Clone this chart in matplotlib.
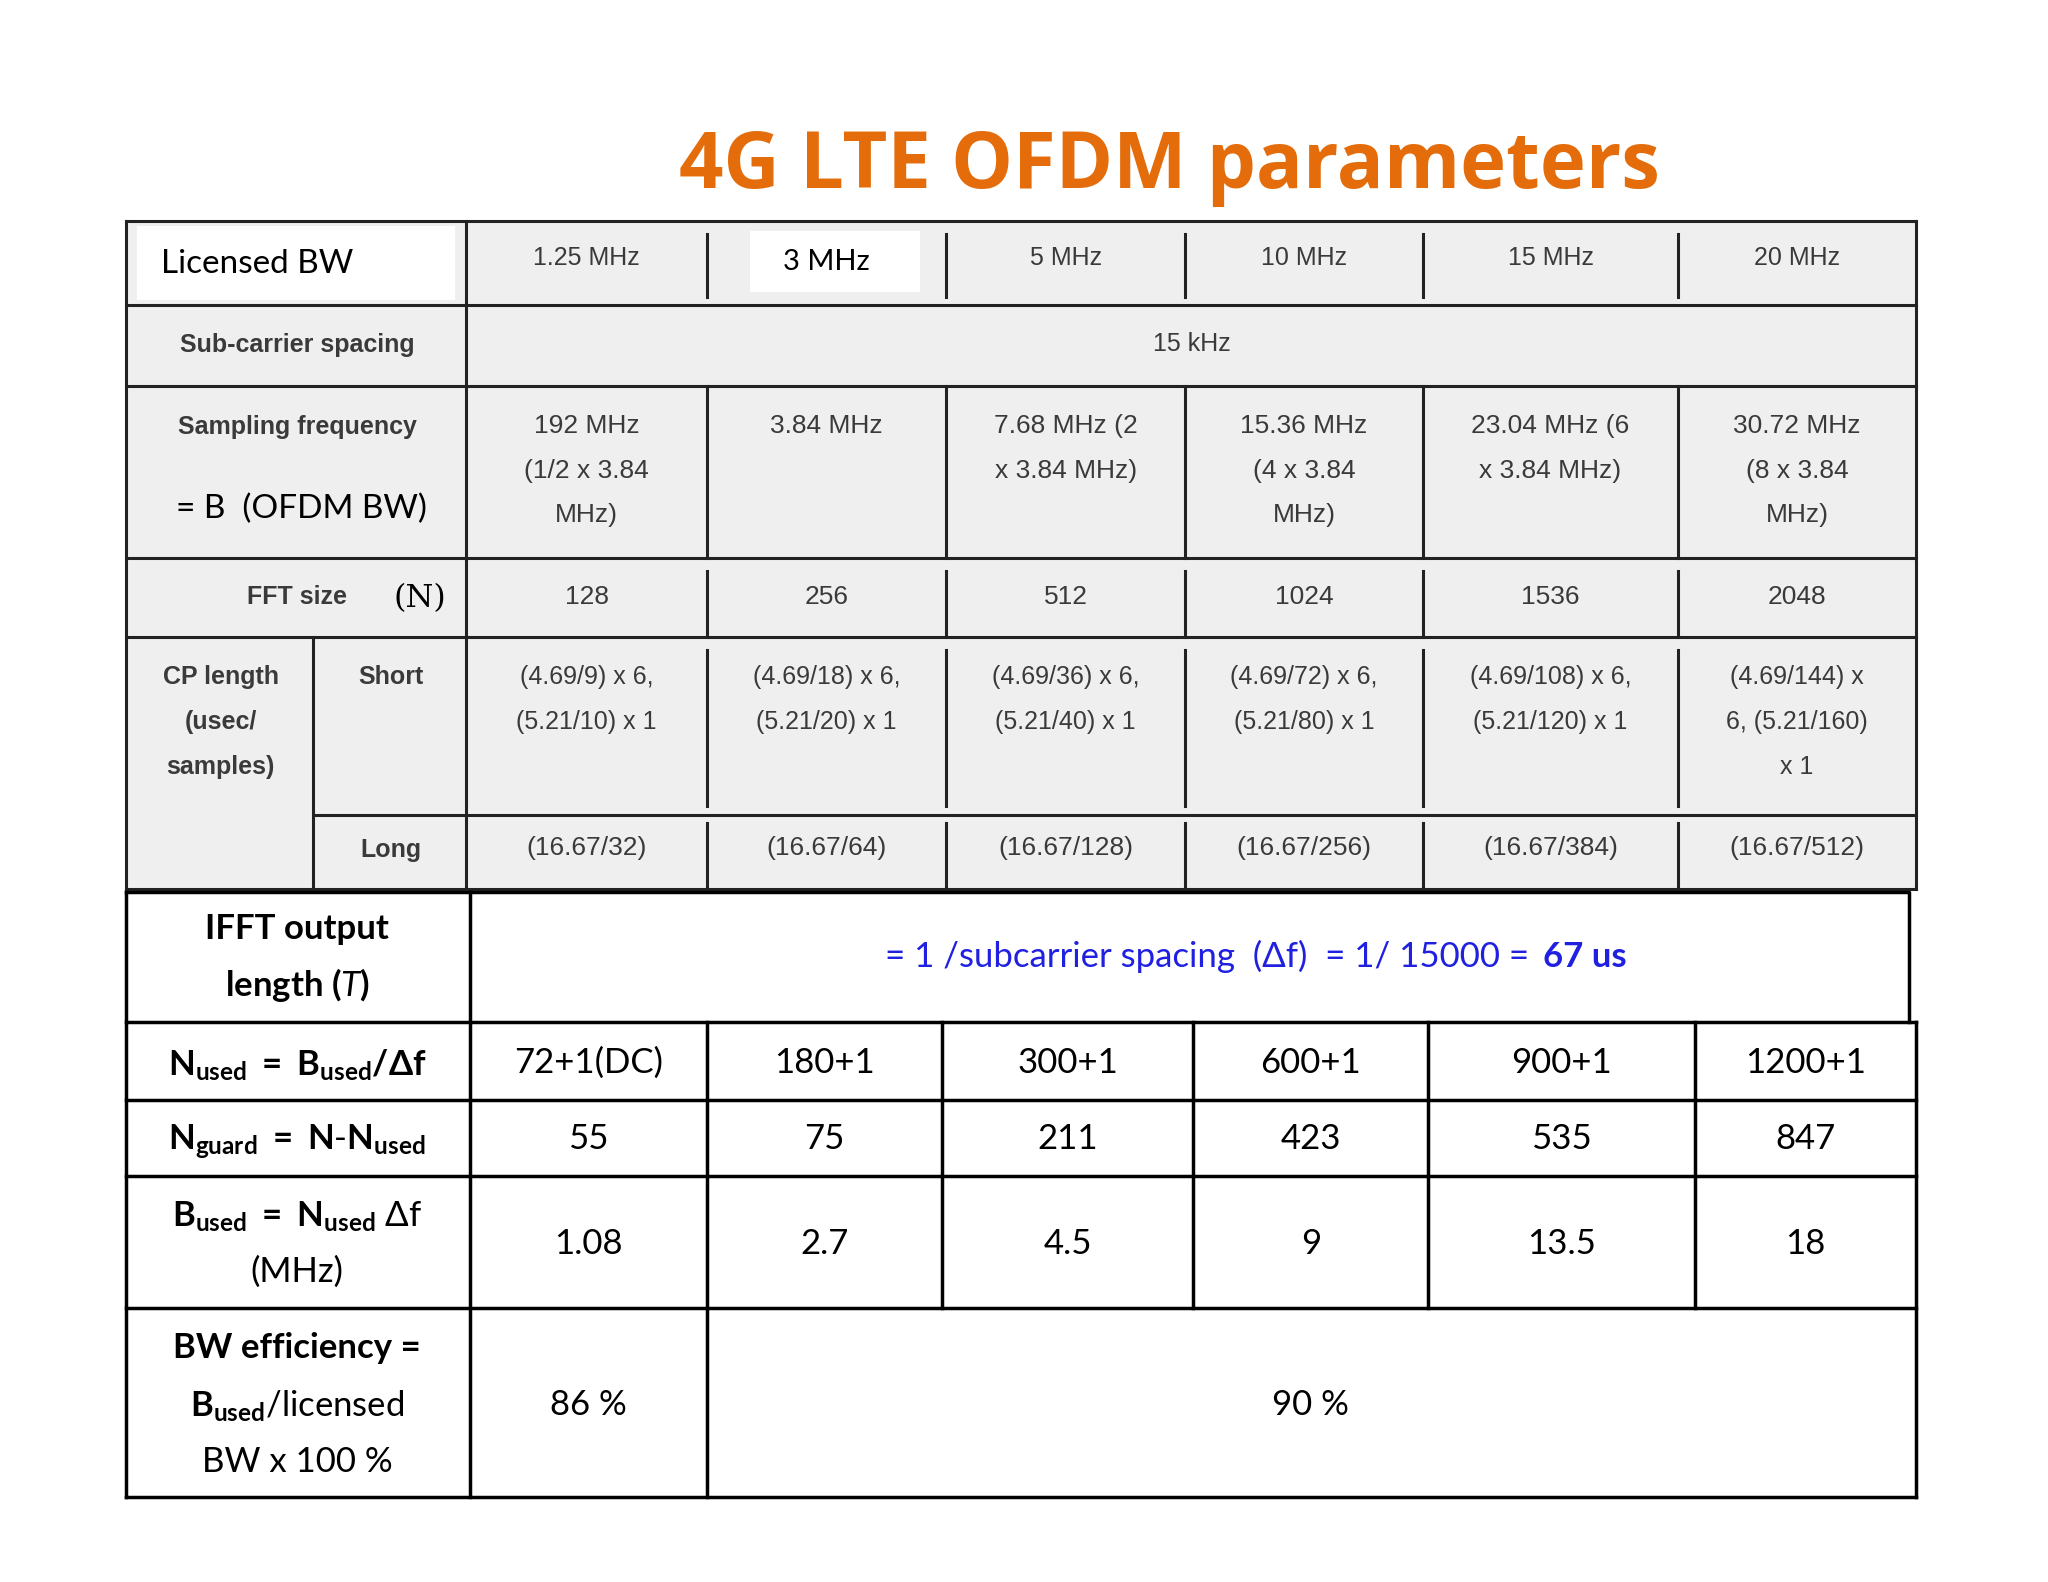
import matplotlib.pyplot as plt

plt.rcParams['mathtext.fontset'] = 'custom'
plt.rcParams['mathtext.rm'] = 'Lato'
plt.rcParams['mathtext.bf'] = 'Lato:bold'
plt.rcParams['mathtext.it'] = 'Lato:italic'

# table data
bandwidths = ['1.25 MHz', '3 MHz', '5 MHz', '10 MHz', '15 MHz', '20 MHz']
sampling = [['192 MHz', '(1/2 x 3.84', 'MHz)'], ['3.84 MHz'], ['7.68 MHz (2', 'x 3.84 MHz)'],
            ['15.36 MHz', '(4 x 3.84', 'MHz)'], ['23.04 MHz (6', 'x 3.84 MHz)'], ['30.72 MHz', '(8 x 3.84', 'MHz)']]
fft_size = ['128', '256', '512', '1024', '1536', '2048']
cp_short = [['(4.69/9) x 6,', '(5.21/10) x 1'], ['(4.69/18) x 6,', '(5.21/20) x 1'],
            ['(4.69/36) x 6,', '(5.21/40) x 1'], ['(4.69/72) x 6,', '(5.21/80) x 1'],
            ['(4.69/108) x 6,', '(5.21/120) x 1'], ['(4.69/144) x', '6, (5.21/160)', 'x 1']]
cp_long = ['(16.67/32)', '(16.67/64)', '(16.67/128)', '(16.67/256)', '(16.67/384)', '(16.67/512)']
n_used = ['72+1(DC)', '180+1', '300+1', '600+1', '900+1', '1200+1']
n_guard = ['55', '75', '211', '423', '535', '847']
b_used = ['1.08', '2.7', '4.5', '9', '13.5', '18']

fig = plt.figure(figsize=(20.48, 15.82), dpi=100)
ax = fig.add_axes([0, 0, 1, 1])
ax.set_xlim(0, 1550)
ax.set_ylim(1197, 0)
ax.axis('off')

gray_txt = '#3a3a3a'
sm = dict(family='Liberation Sans', fontsize=18, color=gray_txt, ha='center', va='center')
sm19 = dict(sm, fontsize=19)
smb = dict(sm, fontweight='bold')
big = dict(family='Lato', fontsize=25, color='black', ha='center', va='center')
bigb = dict(big, fontweight='bold')

ax.text(885, 127, '4G LTE OFDM parameters', family='Open Sans', fontsize=56, fontweight='bold',
        color='#E46C0A', ha='center', va='center')

# upper section background
ax.add_patch(plt.Rectangle((95, 167), 1355, 506, fc='#efefef', ec='none'))
ax.add_patch(plt.Rectangle((104, 171), 240, 56, fc='white', ec='none'))
ax.add_patch(plt.Rectangle((568, 175), 128, 46, fc='white', ec='none'))

tc = [95, 353, 535, 716, 897, 1077, 1270, 1450]
centers = [(tc[i + 1] + tc[i + 2]) / 2 for i in range(6)]
lc = dict(color='#222222', lw=2.2)

# upper lines
for y in [167, 231, 292, 422, 482, 673]:
    ax.plot([95, 1450], [y, y], **lc)
ax.plot([237, 1450], [617, 617], **lc)
ax.plot([95, 95], [167, 673], **lc)
ax.plot([1450, 1450], [167, 673], **lc)
ax.plot([353, 353], [167, 673], **lc)
ax.plot([237, 237], [482, 673], **lc)
for x in tc[2:-1]:
    for y0, y1 in [(177, 225), (292, 422), (432, 482), (492, 610), (623, 673)]:
        ax.plot([x, x], [y0, y1], **lc)

# upper text
ax.text(122, 200, 'Licensed BW', family='Lato', fontsize=24, color='black', ha='left', va='center')
for c, b in zip(centers, bandwidths):
    if b == '3 MHz':
        ax.text(c, 198, b, family='Lato', fontsize=21, color='black', ha='center', va='center')
    else:
        ax.text(c, 195, b, **sm)
ax.text(225, 261, 'Sub-carrier spacing', **smb)
ax.text(902, 260, '15 kHz', **sm)
ax.text(225, 323, 'Sampling frequency', **smb)
ax.text(228, 385, '= B  (OFDM BW)', family='Lato', fontsize=24, color='black', ha='center', va='center')
for c, lines in zip(centers, sampling):
    for k, s in enumerate(lines):
        ax.text(c, 322 + 34 * k, s, **sm19)
ax.text(225, 452, 'FFT size', **smb)
ax.text(318, 453, '(N)', family='DejaVu Serif', fontsize=23, color='black', ha='center', va='center')
for c, s in zip(centers, fft_size):
    ax.text(c, 452, s, **sm19)
for k, s in enumerate(['CP length', '(usec/', 'samples)']):
    ax.text(167, 512 + 34 * k, s, **smb)
ax.text(296, 512, 'Short', **smb)
ax.text(296, 643, 'Long', **smb)
for c, lines in zip(centers, cp_short):
    for k, s in enumerate(lines):
        ax.text(c, 512 + 34 * k, s, **sm)
for c, s in zip(centers, cp_long):
    ax.text(c, 642, s, **sm19)

# lower section
bc = [95, 356, 535, 713, 903, 1081, 1283, 1450]
lcentres = [(bc[i + 1] + bc[i + 2]) / 2 for i in range(6)]
lk = dict(color='black', lw=2.5)
ax.plot([95, 1445, 1445], [675, 675, 773], **lk)
ax.plot([95, 95], [675, 1133], **lk)
ax.plot([356, 356], [675, 1133], **lk)
for y in [773, 832, 890, 990, 1133]:
    ax.plot([95, 1450], [y, y], **lk)
ax.plot([1450, 1450], [773, 1133], **lk)
for x in bc[2:-1]:
    ax.plot([x, x], [773, 990], **lk)
ax.plot([535, 535], [990, 1133], **lk)

ax.text(225, 703, 'IFFT output', **bigb)
ax.text(225, 745, r'length ($\mathbf{\it{T}}$)', **bigb)
blue = '#2020E0'
ax.text(1164, 724, '= 1 /subcarrier spacing  (\u0394f)  = 1/ 15000 = ', family='Lato', fontsize=25,
        color=blue, ha='right', va='center')
ax.text(1168, 724, '67 us', family='Lato', fontsize=25, fontweight='bold', color=blue, ha='left', va='center')

ax.text(225, 806, r'$\mathbf{N_{used}\ =\ B_{used}/\Delta f}$', **big)
ax.text(225, 864, r'$\mathbf{N_{guard}\ =\ N}$-$\mathbf{N_{used}}$', **big)
ax.text(225, 921, r'$\mathbf{B_{used}\ =\ N_{used}}\ \Delta$f', **big)
ax.text(225, 962, '(MHz)', **big)
for c, a, g, b in zip(lcentres, n_used, n_guard, b_used):
    ax.text(c, 804, a, **big)
    ax.text(c, 862, g, **big)
    ax.text(c, 941, b, **big)

ax.text(225, 1020, 'BW efficiency =', **bigb)
ax.text(225, 1064, r'$\mathbf{B_{used}}$/licensed', **big)
ax.text(225, 1106, 'BW x 100 %', **big)
ax.text(445, 1063, '86 %', **big)
ax.text(992, 1063, '90 %', **big)

fig.savefig('out.png', dpi=100, facecolor='white')
